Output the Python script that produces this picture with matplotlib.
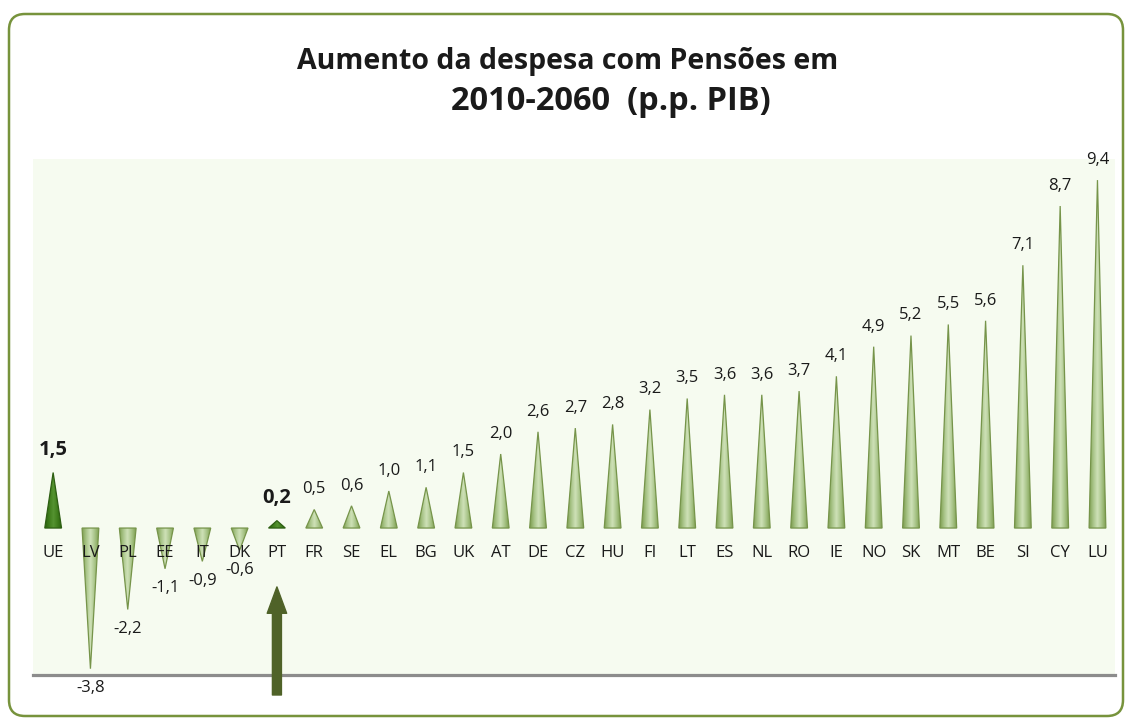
import numpy as np
import matplotlib
matplotlib.use("Agg")
import matplotlib.pyplot as plt
from matplotlib.patches import Polygon, FancyBboxPatch
from matplotlib.colors import LinearSegmentedColormap

plt.rcParams['font.family'] = ['Open Sans', 'DejaVu Sans']

# ---- data ----
countries = ["UE", "LV", "PL", "EE", "IT", "DK", "PT", "FR", "SE", "EL", "BG", "UK", "AT", "DE",
             "CZ", "HU", "FI", "LT", "ES", "NL", "RO", "IE", "NO", "SK", "MT", "BE", "SI", "CY", "LU"]
values = [1.5, -3.8, -2.2, -1.1, -0.9, -0.6, 0.2, 0.5, 0.6, 1.0, 1.1, 1.5, 2.0, 2.6,
          2.7, 2.8, 3.2, 3.5, 3.6, 3.6, 3.7, 4.1, 4.9, 5.2, 5.5, 5.6, 7.1, 8.7, 9.4]
highlight = ["UE", "PT"]
title_line1 = "Aumento da despesa com Pensões em"
title_line2 = "2010-2060  (p.p. PIB)"

fig = plt.figure(figsize=(11.26, 7.2), dpi=100)

# outer rounded frame
frame = FancyBboxPatch((0.09, 0.04), 11.14, 7.02,
                       boxstyle="round,pad=0,rounding_size=0.16",
                       transform=fig.dpi_scale_trans, facecolor="none",
                       edgecolor="#77933c", linewidth=1.8, zorder=5)
fig.patches.append(frame)

ax = fig.add_axes([33/1126, 1 - 675/720, (1115 - 33)/1126, (675 - 159)/720])
ax.set_facecolor("#f6fbf0")
for s in ["top", "left", "right"]:
    ax.spines[s].set_visible(False)
ax.spines["bottom"].set_color("#8c8c8c")
ax.spines["bottom"].set_linewidth(2.3)
ax.set_xticks([])
ax.set_yticks([])

light_cmap = LinearSegmentedColormap.from_list("lg", ["#7f9f52", "#a9c589", "#cfe1b8", "#a9c589", "#7f9f52"])
dark_cmap = LinearSegmentedColormap.from_list("dg", ["#2a620d", "#3f7d1c", "#559331", "#3f7d1c", "#2a620d"])
grad = np.linspace(0, 1, 64).reshape(1, -1)

hw = 0.225
for i, (c, v) in enumerate(zip(countries, values)):
    hl = c in highlight
    poly = Polygon([[i - hw, 0], [i, v], [i + hw, 0]], closed=True,
                   facecolor="none", edgecolor="#2d5e12" if hl else "#76944a",
                   linewidth=0.9, zorder=3)
    ax.add_patch(poly)
    im = ax.imshow(grad, cmap=dark_cmap if hl else light_cmap, aspect="auto",
                   extent=(i - hw, i + hw, min(0, v), max(0, v)), zorder=2,
                   interpolation="bilinear")
    im.set_clip_path(poly)
    # category label
    ax.annotate(c, xy=(i, 0), xytext=(0, -18), textcoords="offset points",
                ha="center", va="center", fontsize=12, color="#1a1a1a", zorder=5)
    # value label
    lab = f"{v:.1f}".replace(".", ",")
    if v >= 0:
        ax.annotate(lab, xy=(i, v), xytext=(0, 14.5 if not hl else 16.5), textcoords="offset points",
                    ha="center", va="center", fontsize=14.5 if hl else 12,
                    fontweight="bold" if hl else "normal", color="#1a1a1a", zorder=5)
    else:
        ax.annotate(lab, xy=(i, v), xytext=(0, -14), textcoords="offset points",
                    ha="center", va="center", fontsize=12, color="#1a1a1a",
                    annotation_clip=False, zorder=5)

ax.set_xlim(-0.54, 28.47)
ax.set_ylim(-3.97, 9.97)

# arrow pointing at PT
pt = countries.index("PT")
ax.annotate("", xy=(pt, -1.59), xytext=(pt, -4.51), annotation_clip=False,
            arrowprops=dict(arrowstyle="simple,head_width=1.4,head_length=1.9,tail_width=0.65",
                            mutation_scale=10, color="#4f6228", shrinkA=0, shrinkB=0))

fig.text(568/1126, 1 - 62/720, title_line1, ha="center", va="center",
         fontsize=20.5, fontweight="bold", color="#1a1a1a")
fig.text(611/1126, 1 - 101/720, title_line2, ha="center", va="center",
         fontsize=23.5, fontweight="bold", color="#1a1a1a")

fig.savefig("out.png", dpi=100)
